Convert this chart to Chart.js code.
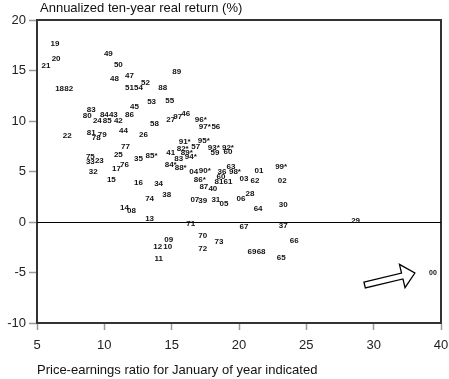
<!DOCTYPE html>
<html>
<head>
<meta charset="utf-8">
<script src="https://cdn.jsdelivr.net/npm/chart.js@4.4.0/dist/chart.umd.min.js"></script>
<style>
html,body{margin:0;padding:0;background:#fff;}
#wrap{width:449px;height:379px;position:relative;}
</style>
</head>
<body>
<div id="wrap"><canvas id="c" width="449" height="379"></canvas></div>
<script>
// Year labels, P/E ratio (x), annualized ten-year real return (y)
const yearLabels = ["19","20","21","18","82","49","50","48","47","51","54","52","88","89","53","55","45","83","80","84","43","86","24","85","42","58","27","97","46","96*","97*","56","22","81","78","79","44","26","77","25","75","33","23","76","17","35","85*","32","15","16","34","74","38","14","08","13","91*","95*","82*","57","89*","93*","92*","59","60","41","83","94*","84*","88*","63","04","90*","36","98*","01","99*","86*","60","81","61","03","62","02","87","40","28","06","07","39","31","05","64","30","71","67","37","29","70","73","09","12","10","72","11","66","69","68","65","00"];
const peRatio = [6.34,6.42,5.67,6.68,7.35,10.30,11.04,10.75,11.87,11.87,12.54,13.06,14.33,15.37,13.51,14.85,12.24,9.03,8.73,10.00,10.67,11.87,9.48,10.22,11.04,13.73,14.93,15.45,16.04,17.16,17.46,18.28,7.24,9.03,9.40,9.85,11.42,12.91,11.57,11.04,8.96,8.96,9.63,11.49,10.90,12.54,13.51,9.18,10.52,12.54,14.03,13.36,14.63,11.49,12.01,13.36,15.97,17.39,15.82,16.79,16.12,18.13,19.18,18.21,19.18,14.93,15.52,16.42,14.93,15.67,19.40,16.64,17.46,18.73,19.70,21.49,23.13,17.09,18.66,18.51,19.18,20.37,21.19,23.21,17.39,18.06,20.82,20.15,16.72,17.31,18.28,18.88,21.42,23.28,16.42,20.37,23.28,28.66,17.31,18.51,14.78,13.96,14.70,17.31,14.03,24.10,20.97,21.64,23.13,34.40];
const realReturn = [17.62,16.14,15.45,13.17,13.17,16.63,15.54,14.16,14.46,13.27,13.27,13.76,13.27,14.85,11.88,11.98,11.39,11.09,10.50,10.59,10.59,10.59,10.00,10.00,10.00,9.70,10.10,10.40,10.69,10.10,9.41,9.41,8.51,8.81,8.32,8.61,9.01,8.61,7.43,6.63,6.44,5.94,6.04,5.64,5.25,6.24,6.53,4.95,4.16,3.86,3.76,2.28,2.67,1.39,1.09,0.30,7.92,8.02,7.23,7.43,6.83,7.33,7.33,6.83,6.93,6.83,6.24,6.44,5.64,5.35,5.45,4.95,5.05,4.95,4.95,5.05,5.45,4.16,4.46,3.96,3.96,4.26,4.06,4.06,3.47,3.27,2.77,2.28,2.18,2.08,2.18,1.78,1.29,1.68,-0.20,-0.50,-0.40,0.10,-1.39,-1.98,-1.78,-2.48,-2.48,-2.67,-3.66,-1.88,-2.97,-2.97,-3.56,-5.05];
const xTicks = [5,10,15,20,25,30,35];
const xTickLabels = ["5","10","15","20","25","30","40"];
const yTicks = [-10,-5,0,5,10,15,20];

const points = peRatio.map((x,i)=>({x:x, y:realReturn[i]}));

const FONT = '"Liberation Sans", Arial, Helvetica, sans-serif';

const decor = {
  id:'decor',
  afterDatasetsDraw(chart){
    const ctx = chart.ctx;
    const a = chart.chartArea;
    const xs = chart.scales.x, ys = chart.scales.y;
    ctx.save();
    // frame top & right
    ctx.strokeStyle = '#333';
    ctx.lineWidth = 2;
    ctx.beginPath();
    ctx.moveTo(a.left, a.top); ctx.lineTo(a.right, a.top); ctx.lineTo(a.right, a.bottom);
    ctx.stroke();
    // zero line
    const y0 = ys.getPixelForValue(0);
    ctx.strokeStyle = '#000'; ctx.lineWidth = 1;
    ctx.beginPath(); ctx.moveTo(a.left, Math.round(y0)+0.5); ctx.lineTo(a.right, Math.round(y0)+0.5); ctx.stroke();
    // labels
    const meta = chart.getDatasetMeta(0);
    ctx.fillStyle = '#111';
    ctx.textAlign = 'center';
    ctx.textBaseline = 'middle';
    meta.data.forEach((el,i)=>{
      const lab = yearLabels[i];
      ctx.font = (lab === '00' ? 'bold 7px ' : 'bold 8px ') + FONT;
      ctx.fillText(lab, el.x, el.y);
    });
    // arrow pointing to 2000
    const x1 = xs.getPixelForValue(29.33), y1 = ys.getPixelForValue(-6.24);
    const x2 = xs.getPixelForValue(33.06), y2 = ys.getPixelForValue(-5.05);
    const ang = Math.atan2(y2-y1, x2-x1);
    const L = Math.hypot(x2-x1, y2-y1);
    const headL = 13, shaftW = 3, headW = 12;
    ctx.translate(x1, y1); ctx.rotate(ang);
    ctx.beginPath();
    ctx.moveTo(0,-shaftW);
    ctx.lineTo(L-headL,-shaftW);
    ctx.lineTo(L-headL,-headW);
    ctx.lineTo(L,0);
    ctx.lineTo(L-headL,headW);
    ctx.lineTo(L-headL,shaftW);
    ctx.lineTo(0,shaftW);
    ctx.closePath();
    ctx.fillStyle='#fff'; ctx.fill();
    ctx.strokeStyle='#000'; ctx.lineWidth=1.3; ctx.stroke();
    ctx.restore();
    // axis titles
    ctx.save();
    ctx.fillStyle = '#111';
    ctx.font = '13px ' + FONT;
    ctx.textAlign = 'left';
    ctx.textBaseline = 'middle';
    ctx.fillText('Annualized ten-year real return (%)', 40, 8);
    ctx.fillText('Price-earnings ratio for January of year indicated', 37, 370);
    ctx.restore();
  }
};

new Chart(document.getElementById('c'), {
  type:'scatter',
  data:{datasets:[{data:points, pointRadius:0, pointHoverRadius:0, showLine:false}]},
  options:{
    responsive:false,
    animation:false,
    events:[],
    layout:{padding:{top:20, right:8, left:0, bottom:0}},
    plugins:{legend:{display:false}, tooltip:{enabled:false}, title:{display:false}},
    scales:{
      x:{
        type:'linear', min:5, max:35,
        afterBuildTicks(s){ s.ticks = xTicks.map(v=>({value:v})); },
        afterFit(s){ s.height = 56; s.paddingLeft = 0; s.paddingRight = 0; },
        ticks:{
          callback:(v)=>{ const i = xTicks.indexOf(v); return i>=0 ? xTickLabels[i] : ''; },
          font:{family:FONT, size:13}, color:'#222', padding:8, maxRotation:0, autoSkip:false
        },
        grid:{drawOnChartArea:false, drawTicks:true, tickLength:7, tickColor:'#999', tickWidth:1.5},
        border:{display:true, color:'#333', width:2}
      },
      y:{
        type:'linear', min:-10, max:20,
        afterBuildTicks(s){ s.ticks = yTicks.map(v=>({value:v})); },
        afterFit(s){ s.width = 37; s.paddingTop = 0; s.paddingBottom = 0; },
        ticks:{font:{family:FONT, size:13}, color:'#222', padding:3, autoSkip:false},
        grid:{drawOnChartArea:false, drawTicks:true, tickLength:8, tickColor:'#999', tickWidth:1.5},
        border:{display:true, color:'#333', width:2}
      }
    }
  },
  plugins:[decor]
});
</script>
</body>
</html>
